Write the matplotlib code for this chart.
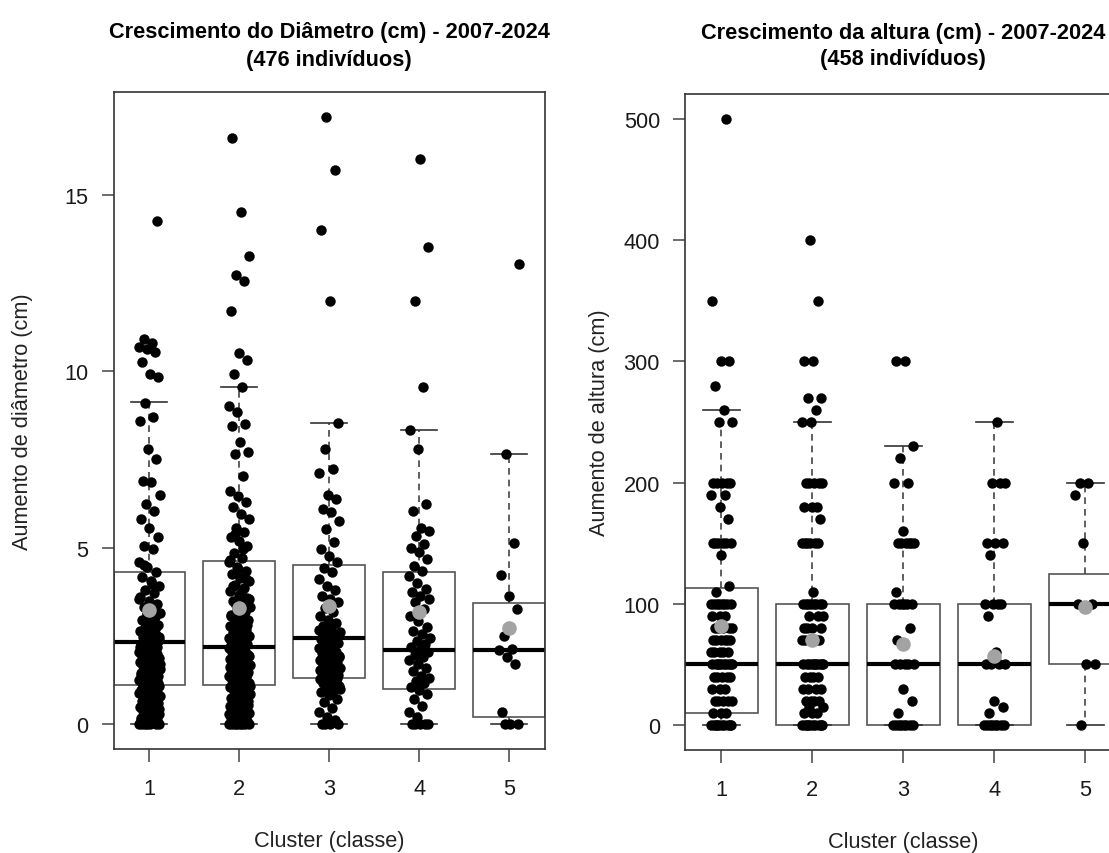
import numpy as np
import matplotlib
matplotlib.use("Agg")
import matplotlib.pyplot as plt

plt.rcParams['font.family'] = ['Liberation Sans', 'DejaVu Sans']

clusters = [1, 2, 3, 4, 5]

### crescimento do diametro (cm)
diam_c1 = [0, 0, 0, 0, 0, 0, 0, 0.03, 0.06, 0.1, 0.14, 0.17, 0.21, 0.25, 0.28, 0.33, 0.36, 0.4,
           0.44, 0.47, 0.52, 0.55, 0.59, 0.63, 0.66, 0.71, 0.74, 0.78, 0.82, 0.86, 0.9, 0.93, 0.97,
           1.01, 1.04, 1.08, 1.12, 1.15, 1.19, 1.23, 1.26, 1.3, 1.34, 1.37, 1.41, 1.45, 1.48, 1.52,
           1.56, 1.6, 1.63, 1.67, 1.71, 1.75, 1.78, 1.82, 1.86, 1.9, 1.94, 1.97, 2.01, 2.05, 2.09,
           2.13, 2.17, 2.21, 2.25, 2.29, 2.33, 2.38, 2.43, 2.48, 2.53, 2.58, 2.64, 2.7, 2.76, 2.82,
           2.88, 2.95, 3.02, 3.09, 3.16, 3.24, 3.32, 3.4, 3.5, 3.6, 3.7, 3.8, 3.92, 4.04, 4.16, 4.3,
           4.44, 4.6, 4.96, 5.05, 5.3, 5.57, 5.8, 6.05, 6.24, 6.5, 6.85, 6.9, 7.5, 7.8, 8.6, 8.7,
           9.1, 9.85, 9.92, 10.26, 10.55, 10.62, 10.7, 10.8, 10.92, 14.25,
           0.02, 0.12, 0.23, 0.31, 0.42, 0.5, 0.61, 0.69, 0.8, 0.88, 0.99, 1.06, 1.17, 1.28, 1.39,
           1.5, 1.58, 1.69, 1.8, 1.88, 1.99, 2.07, 2.19, 2.27, 2.36, 2.46, 2.55, 2.62, 2.68, 3.12,
           3.55, 3.98, 4.5]
diam_c2 = [0, 0, 0, 0, 0, 0, 0, 0, 0.04, 0.09, 0.12, 0.18, 0.22, 0.26, 0.31, 0.35, 0.4, 0.43,
           0.48, 0.51, 0.57, 0.6, 0.65, 0.69, 0.72, 0.77, 0.81, 0.86, 0.9, 0.93, 0.98, 1.02, 1.05,
           1.1, 1.13, 1.17, 1.21, 1.24, 1.29, 1.33, 1.36, 1.4, 1.44, 1.47, 1.52, 1.55, 1.59, 1.63,
           1.66, 1.7, 1.74, 1.78, 1.81, 1.85, 1.89, 1.92, 1.96, 2.0, 2.04, 2.07, 2.11, 2.15, 2.19,
           2.23, 2.27, 2.31, 2.36, 2.4, 2.45, 2.5, 2.55, 2.6, 2.66, 2.71, 2.77, 2.83, 2.9, 2.96,
           3.03, 3.1, 3.17, 3.25, 3.33, 3.41, 3.5, 3.58, 3.67, 3.76, 3.86, 3.95, 4.05, 4.15, 4.25,
           4.34, 4.45, 4.58, 4.72, 4.85, 5.05, 5.18, 5.29, 5.45, 5.57, 5.8, 5.95, 6.14, 6.28, 6.45,
           6.62, 7.04, 7.65, 7.7, 8.0, 8.46, 8.5, 8.84, 9.03, 9.55, 9.92, 10.32, 10.52, 11.7, 12.57,
           12.73, 13.28, 14.53, 16.61,
           0.02, 0.15, 0.28, 0.38, 0.46, 0.55, 0.67, 0.75, 0.84, 0.95, 1.08, 1.19, 1.31, 1.42, 1.5,
           1.61, 1.72, 1.83, 1.94, 2.02, 2.13, 2.25, 2.34, 2.43, 2.58, 2.68, 2.8, 2.93, 3.07, 3.2,
           3.38, 3.55, 3.72, 3.9, 4.1, 4.4, 4.65, 4.95, 5.38]
diam_c3 = [0, 0, 0, 0, 0.12, 0.2, 0.35, 0.45, 0.62, 0.7, 0.82, 0.9, 0.96, 1.02, 1.07, 1.11, 1.15,
           1.2, 1.24, 1.28, 1.32, 1.36, 1.4, 1.44, 1.48, 1.52, 1.56, 1.6, 1.64, 1.68, 1.72, 1.76,
           1.8, 1.84, 1.88, 1.92, 1.96, 2.0, 2.05, 2.1, 2.15, 2.2, 2.25, 2.3, 2.36, 2.42, 2.48, 2.55,
           2.62, 2.7, 2.78, 2.87, 2.96, 3.06, 3.17, 3.3, 3.45, 3.55, 3.64, 3.8, 3.92, 4.1, 4.3, 4.42,
           4.58, 4.77, 4.96, 5.15, 5.53, 5.76, 6.0, 6.1, 6.38, 6.5, 7.13, 7.23, 7.8, 8.53, 12.0,
           14.02, 15.72, 17.22,
           0.98, 1.09, 1.18, 1.3, 1.42, 1.54, 1.66, 1.78, 1.9, 2.02, 2.18, 2.33, 2.5, 2.66, 2.84]
diam_c4 = [0, 0, 0, 0, 0, 0.19, 0.33, 0.52, 0.71, 0.85, 0.95, 1.04, 1.15, 1.23, 1.3, 1.37, 1.51,
           1.6, 1.7, 1.8, 1.89, 1.95, 2.03, 2.1, 2.17, 2.27, 2.36, 2.45, 2.55, 2.65, 2.74, 2.93,
           3.07, 3.26, 3.45, 3.55, 3.64, 3.73, 3.83, 4.01, 4.2, 4.34, 4.49, 4.67, 4.87, 5.0, 5.1,
           5.34, 5.48, 5.57, 6.05, 6.24, 7.8, 8.33, 9.55, 12.0, 13.52, 16.02]
diam_c5 = [0, 0, 0, 0.33, 1.7, 1.89, 2.1, 2.13, 2.5, 3.26, 3.64, 4.22, 5.12, 7.65, 13.05]

# caixas (quartis, bigodes, media)
diam_q1 = [1.1, 1.1, 1.3, 0.99, 0.2]
diam_med = [2.32, 2.18, 2.44, 2.1, 2.1]
diam_q3 = [4.31, 4.62, 4.5, 4.31, 3.43]
diam_lo = [0, 0, 0, 0, 0]
diam_hi = [9.13, 9.55, 8.53, 8.33, 7.65]
diam_mean = [3.23, 3.29, 3.34, 3.17, 2.72]

### crescimento da altura (cm)
alt_c1 = [0, 0, 0, 0, 0, 0, 0, 0, 0, 0, 10, 10, 10, 20, 20, 20, 20, 20, 30, 30, 30, 40, 40, 40,
          40, 40, 50, 50, 50, 50, 50, 50, 50, 50, 50, 50, 60, 60, 60, 60, 60, 70, 70, 70, 70, 70,
          70, 80, 80, 80, 80, 80, 90, 90, 90, 100, 100, 100, 100, 100, 100, 100, 100, 110, 115,
          140, 150, 150, 150, 150, 150, 150, 170, 180, 190, 190, 200, 200, 200, 200, 200, 250,
          250, 260, 280, 300, 300, 350, 500]
alt_c2 = [0, 0, 0, 0, 0, 0, 0, 0, 0, 0, 10, 10, 10, 15, 15, 20, 20, 20, 20, 30, 30, 30, 30, 40,
          40, 40, 40, 50, 50, 50, 50, 50, 50, 50, 50, 50, 50, 70, 70, 70, 70, 70, 80, 80, 80, 80,
          90, 90, 90, 100, 100, 100, 100, 100, 100, 100, 100, 110, 150, 150, 150, 150, 150, 150,
          170, 180, 180, 180, 200, 200, 200, 200, 200, 250, 250, 260, 270, 270, 300, 300, 350, 400]
alt_c3 = [0, 0, 0, 0, 0, 0, 0, 0, 10, 20, 30, 50, 50, 50, 50, 50, 70, 80, 100, 100, 100, 100,
          100, 100, 110, 150, 150, 150, 150, 150, 150, 160, 200, 200, 220, 230, 300, 300]
alt_c4 = [0, 0, 0, 0, 0, 0, 0, 0, 10, 15, 20, 50, 50, 50, 50, 60, 90, 100, 100, 100, 100, 140,
          150, 150, 150, 200, 200, 200, 250]
alt_c5 = [0, 50, 50, 100, 100, 150, 190, 200, 200]

alt_q1 = [10, 0, 0, 0, 50]
alt_med = [50, 50, 50, 50, 100]
alt_q3 = [113, 100, 100, 100, 125]
alt_lo = [0, 0, 0, 0, 0]
alt_hi = [260, 250, 230, 250, 200]
alt_mean = [82, 70, 67, 57, 97]


def jitter(n, amount=0.12):
    # espalhamento fixo (sem aleatorio) como o jitter do stripchart
    return ((np.arange(n) * 0.6180339887 + 0.31) % 1.0 - 0.5) * 2 * amount


def painel(ax, valores, q1, med, q3, lo, hi, media):
    stats = [dict(q1=a, med=b, q3=c, whislo=d, whishi=e, fliers=[])
             for a, b, c, d, e in zip(q1, med, q3, lo, hi)]
    ax.bxp(stats, positions=clusters, widths=0.8, capwidths=0.4, patch_artist=True,
           showfliers=False, manage_ticks=False, zorder=1,
           boxprops=dict(facecolor='white', edgecolor='#555555', linewidth=1.2),
           medianprops=dict(color='black', linewidth=3.0, solid_capstyle='butt'),
           whiskerprops=dict(color='#444444', linewidth=1.2, linestyle=(0, (4, 3))),
           capprops=dict(color='#333333', linewidth=1.2))
    for x, v in zip(clusters, valores):
        ax.plot(x + jitter(len(v)), v, 'o', color='black', ms=7.5, mew=0, zorder=3)
    ax.plot(clusters, media, 'o', color='#a3a3a3', ms=10.5, mew=0, zorder=4)
    ax.set_xlim(0.6, 5.4)
    ax.set_xticks(clusters)
    ax.set_xticklabels([str(c) for c in clusters])
    for s in ax.spines.values():
        s.set_color('#333333')
        s.set_linewidth(1.2)
    ax.tick_params(axis='both', direction='out', length=9, width=1.1, color='#444444',
                   labelsize=15.7, labelcolor='#1a1a1a')
    ax.tick_params(axis='x', pad=12)
    ax.tick_params(axis='y', pad=9)


fig = plt.figure(figsize=(11.09, 8.54), dpi=100)

# esquerda: diametro
ax1 = fig.add_axes([113.5 / 1109, 1 - 750 / 854, 431.5 / 1109, 657 / 854])
painel(ax1, [diam_c1, diam_c2, diam_c3, diam_c4, diam_c5],
       diam_q1, diam_med, diam_q3, diam_lo, diam_hi, diam_mean)
ax1.set_ylim(-0.71, 17.92)
ax1.set_yticks([0, 5, 10, 15])
ax1.set_ylabel('Aumento de diâmetro (cm)', fontsize=15.7, color='#222222')
ax1.set_xlabel('Cluster (classe)', fontsize=15.7, color='#222222')
ax1.yaxis.set_label_coords(-0.187, 0.5)
ax1.xaxis.set_label_coords(0.5, -0.123)
ax1.set_title('Crescimento do Diâmetro (cm) - 2007-2024\n(476 indivíduos)',
              fontsize=15.7, fontweight='bold', pad=19.5, linespacing=1.45)

# direita: altura (cortada na borda direita como no original)
ax2 = fig.add_axes([685 / 1109, 1 - 751 / 854, 436.8 / 1109, 656 / 854])
painel(ax2, [alt_c1, alt_c2, alt_c3, alt_c4, alt_c5],
       alt_q1, alt_med, alt_q3, alt_lo, alt_hi, alt_mean)
ax2.set_ylim(-20.6, 520.6)
ax2.set_yticks([0, 100, 200, 300, 400, 500])
ax2.set_ylabel('Aumento de altura (cm)', fontsize=15.7, color='#222222')
ax2.set_xlabel('Cluster (classe)', fontsize=15.7, color='#222222')
ax2.yaxis.set_label_coords(-0.172, 0.5)
ax2.xaxis.set_label_coords(0.5, -0.1235)
ax2.set_title('Crescimento da altura (cm) - 2007-2024\n(458 indivíduos)',
              fontsize=15.7, fontweight='bold', pad=21.5, linespacing=1.3)

fig.savefig('out.png', dpi=100)
